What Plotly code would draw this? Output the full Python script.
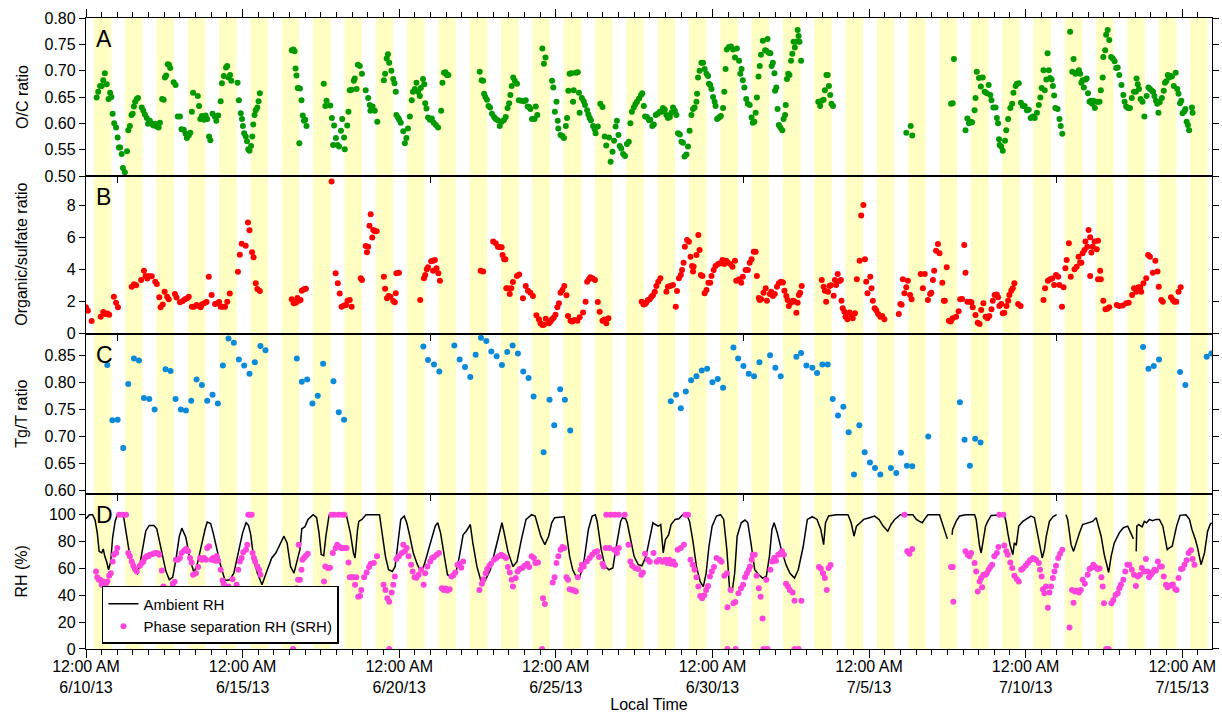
import plotly.graph_objects as go
from datetime import datetime, timedelta

# ---------------- data (time = days after 2013-06-10 00:00 local) ----------------
oc_day = [
 0.34,0.39,0.45,0.50,0.55,0.60,0.66,0.72,0.77,0.81,
 0.85,0.90,0.96,1.01,1.05,1.09,1.14,1.18,1.24,1.31,
 1.35,1.40,1.45,1.49,1.53,1.57,1.62,1.66,1.78,1.83,
 1.88,1.94,1.98,2.04,2.11,2.15,2.20,2.26,2.32,2.36,
 2.43,2.48,2.52,2.56,2.61,2.65,2.69,2.80,2.86,2.93,
 3.00,3.05,3.12,3.18,3.22,3.28,3.33,3.38,3.42,3.57,
 3.61,3.65,3.70,3.77,3.82,3.87,3.93,3.97,4.04,4.11,
 4.16,4.22,4.30,4.34,4.40,4.47,4.51,4.55,4.60,4.64,
 4.84,4.88,4.94,4.98,5.01,5.05,5.10,5.14,5.18,5.22,
 5.27,5.31,5.34,5.38,5.42,5.47,5.51,5.55,6.57,6.62,
 6.66,6.69,6.72,6.76,6.81,6.83,6.88,6.92,6.96,7.00,
 7.04,
 7.59,7.64,7.68,7.80,7.85,7.89,7.92,7.98,8.03,8.08,
 8.14,8.18,8.24,8.26,8.34,8.38,8.42,8.48,8.55,8.58,
 8.64,8.68,8.74,8.81,8.93,9.01,9.06,9.08,9.15,9.22,
 9.30,9.51,9.55,9.60,9.64,9.68,9.75,9.81,9.85,9.89,
 9.91,9.96,10.00,10.05,10.13,10.18,10.23,10.28,10.34,10.40,
 10.44,10.50,10.55,10.60,10.66,10.69,10.76,10.80,10.83,10.87,
 10.92,10.98,11.04,11.10,11.17,11.24,11.34,11.38,11.43,11.48,
 11.52,11.57,
 12.57,12.63,12.68,12.71,12.75,12.80,12.85,12.90,12.96,13.03,
 13.08,13.15,13.21,13.27,13.34,13.40,13.46,13.51,13.55,13.59,
 13.64,13.69,13.76,13.82,13.89,13.98,14.04,14.10,14.15,14.19,
 14.24,14.32,14.36,14.41,14.57,14.62,14.67,14.88,14.92,14.97,
 15.02,15.06,15.08,15.15,15.21,15.26,15.32,15.36,15.40,15.44,
 15.50,15.55,15.57,15.64,15.70,15.74,15.76,15.83,15.89,15.93,
 16.00,16.04,16.08,16.12,16.19,16.24,16.27,16.34,16.42,16.49,
 16.56,16.61,16.70,16.75,16.81,16.86,16.91,16.95,17.00,17.04,
 17.09,17.15,17.21,17.27,17.33,17.38,17.43,17.49,17.54,17.59,
 17.66,17.72,17.76,17.81,17.85,17.91,17.98,18.02,18.08,18.13,
 18.19,18.25,18.32,18.38,18.42,18.48,18.53,18.58,18.64,18.69,
 18.74,18.80,18.85,18.90,18.96,19.01,19.06,19.11,19.17,19.22,
 19.27,19.33,19.38,19.43,19.49,19.51,19.54,19.59,19.65,19.70,
 19.75,19.81,19.86,19.89,19.93,19.97,20.02,20.07,20.10,20.15,
 20.19,20.23,20.27,20.34,20.38,20.42,20.46,20.53,20.59,20.66,
 20.72,20.78,20.85,20.89,20.93,20.97,21.02,21.08,21.13,21.19,
 21.25,21.29,21.34,21.38,21.42,21.47,21.51,21.55,21.61,21.68,
 21.72,21.76,21.80,21.85,21.89,21.93,21.98,22.00,22.04,22.08,
 22.12,22.17,22.23,22.27,22.32,22.34,22.38,22.42,22.46,22.51,
 22.55,22.59,22.63,22.68,22.72,22.75,22.78,22.83,23.38,23.44,
 23.49,23.55,23.59,23.64,23.68,23.72,23.76,23.80,23.85,26.19,
 26.33,26.38,27.62,27.67,27.71,
 28.08,28.14,28.19,28.23,28.29,28.37,28.40,28.44,28.51,28.57,
 28.63,28.69,28.76,28.82,28.87,28.91,28.97,29.04,29.08,29.12,
 29.15,29.17,29.22,29.27,29.34,29.38,29.44,29.51,29.57,29.61,
 29.68,29.72,29.78,29.85,29.91,29.97,30.04,30.10,30.16,30.23,
 30.29,30.36,30.42,30.47,30.51,30.57,30.61,30.66,30.70,30.74,
 30.78,30.83,30.87,30.91,30.95,31.02,31.08,31.12,31.17,31.42,
 31.49,31.53,31.59,31.66,31.70,31.74,31.78,31.82,31.86,31.91,
 31.95,31.99,32.04,32.08,32.12,32.16,32.21,32.25,32.31,32.36,
 32.40,32.46,32.48,32.54,32.57,32.62,32.67,32.73,32.78,32.84,
 32.89,32.94,32.99,33.06,33.12,33.16,33.21,33.27,33.33,33.39,
 33.46,33.52,33.54,33.58,33.62,33.67,33.73,33.79,33.86,33.92,
 33.97,34.03,34.07,34.11,34.16,34.20,34.24,34.28,34.35,34.41,
 34.45,34.49,34.54,34.58,34.62,34.67,34.73,34.79,34.84,34.88,
 34.93,34.97,35.01,35.07,35.10,35.14,35.18,35.22,35.31,35.33,
]
oc_val = [
 .649,.660,.671,.671,.682,.695,.674,.646,.658,.650,
 .618,.600,.592,.573,.554,.554,.542,.515,.507,.547,
 .587,.595,.616,.618,.632,.641,.646,.648,.630,.624,
 .617,.610,.599,.605,.599,.596,.599,.594,.592,.601,
 .646,.645,.687,.691,.712,.711,.705,.678,.673,.613,
 .613,.589,.588,.580,.572,.577,.582,.622,.658,.652,
 .633,.608,.614,.607,.615,.608,.575,.568,.618,.613,
 .605,.615,.642,.676,.690,.706,.709,.687,.692,.681,
 .677,.644,.619,.608,.595,.581,.575,.566,.551,.548,
 .557,.575,.598,.616,.625,.630,.642,.657,.739,.740,
 .737,.704,.691,.667,.562,.666,.644,.615,.605,.607,
 .595,
 .675,.633,.643,.634,.610,.559,.596,.572,.559,.556,
 .586,.608,.573,.551,.596,.622,.663,.664,.681,.685,
 .665,.711,.709,.694,.663,.648,.635,.624,.632,.624,
 .603,.682,.694,.723,.731,.715,.700,.684,.676,.660,
 .616,.611,.607,.601,.585,.562,.572,.590,.613,.644,
 .660,.665,.677,.660,.652,.667,.684,.674,.638,.628,
 .611,.607,.609,.601,.597,.592,.624,.677,.696,.697,
 .692,.692,
 .698,.682,.681,.656,.650,.645,.633,.630,.618,.612,
 .608,.606,.595,.603,.606,.612,.629,.638,.654,.671,
 .687,.681,.675,.644,.643,.642,.644,.632,.631,.627,
 .608,.608,.632,.616,.742,.713,.725,.681,.668,.622,
 .641,.605,.590,.578,.576,.572,.595,.610,.662,.694,
 .695,.641,.663,.696,.697,.658,.620,.648,.642,.635,
 .625,.617,.610,.606,.595,.589,.581,.594,.637,.631,
 .575,.558,.573,.527,.546,.567,.594,.605,.578,.557,
 .552,.542,.538,.561,.565,.600,.622,.630,.636,.641,
 .647,.654,.657,.633,.613,.612,.606,.607,.595,.598,
 .616,.618,.622,.622,.629,.626,.616,.610,.612,.620,
 .630,.624,.616,.581,.579,.565,.563,.537,.541,.556,
 .586,.616,.627,.630,.641,.656,.687,.700,.715,.715,
 .703,.694,.690,.675,.673,.665,.650,.641,.633,.608,
 .610,.612,.614,.629,.660,.703,.740,.745,.746,.740,
 .725,.742,.719,.694,.703,.682,.668,.646,.637,.635,
 .611,.601,.603,.620,.649,.689,.709,.730,.757,.739,
 .738,.760,.734,.733,.709,.715,.695,.662,.668,.627,
 .597,.592,.587,.608,.616,.635,.684,.694,.692,.719,
 .732,.755,.744,.755,.777,.766,.755,.719,.641,.633,
 .643,.645,.663,.692,.692,.671,.654,.637,.633,.582,
 .595,.577,.637,.638,.722,
 .587,.609,.600,.603,.602,.625,.648,.698,.686,.670,
 .687,.660,.657,.673,.654,.644,.630,.630,.610,.600,
 .570,.559,.556,.548,.567,.587,.608,.629,.637,.658,
 .671,.675,.676,.639,.633,.633,.625,.626,.610,.613,
 .610,.620,.635,.649,.667,.701,.663,.683,.733,.701,
 .686,.683,.671,.653,.629,.627,.608,.595,.580,.774,
 .698,.722,.694,.697,.701,.694,.677,.682,.668,.683,
 .685,.657,.641,.643,.637,.643,.629,.641,.641,.641,
 .663,.687,.726,.739,.768,.777,.758,.726,.723,.718,
 .705,.706,.692,.673,.654,.641,.632,.629,.629,.648,
 .660,.660,.685,.674,.665,.646,.641,.613,.652,.668,
 .665,.662,.660,.652,.643,.637,.620,.640,.648,.662,
 .677,.680,.692,.687,.690,.689,.671,.696,.665,.656,
 .638,.643,.619,.623,.627,.603,.597,.587,.630,.620,
]

os_day = [
 0.00,0.06,0.18,0.47,0.55,0.62,0.68,0.74,0.89,0.96,
 1.02,1.46,1.53,1.60,1.76,1.85,1.90,1.96,2.01,2.10,
 2.21,2.26,2.34,2.38,2.45,2.51,2.59,2.64,2.84,2.89,
 3.00,3.09,3.16,3.23,3.28,3.38,3.45,3.53,3.60,3.66,
 3.70,3.77,3.85,3.92,4.01,4.12,4.19,4.25,4.30,4.36,
 4.44,4.51,4.59,4.85,4.91,4.97,5.10,5.17,5.22,5.30,
 5.35,5.42,5.47,5.55,6.57,6.63,6.70,6.75,6.80,6.85,
 6.89,6.96,7.02,7.84,7.97,8.04,8.10,8.16,8.24,8.30,
 8.35,8.42,8.48,8.77,8.81,8.93,8.97,9.01,9.05,9.09,
 9.14,9.17,9.22,9.28,9.51,9.55,9.61,9.66,9.72,9.81,
 9.86,9.89,9.91,9.99,10.67,10.79,10.83,10.88,10.92,11.02,
 11.08,11.14,11.08,11.19,11.25,11.30,12.60,12.68,13.00,13.08,
 13.15,13.21,13.27,13.30,13.35,13.39,13.42,13.47,13.53,13.58,
 13.63,13.76,13.83,13.95,14.04,14.11,14.19,14.27,14.38,14.46,
 14.51,14.57,14.62,14.68,14.78,14.83,14.88,14.93,14.99,15.05,
 15.10,15.15,15.21,15.27,15.34,15.39,15.47,15.53,15.60,15.69,
 15.76,15.87,15.95,16.00,16.06,16.10,16.17,16.25,16.34,16.40,
 16.49,16.55,16.61,16.68,17.74,17.80,17.85,17.89,17.94,18.00,
 18.05,18.10,18.16,18.21,18.27,18.34,18.53,18.58,18.66,18.74,
 18.83,18.87,18.93,18.99,19.03,19.08,19.12,19.19,19.25,19.30,
 19.35,19.38,19.40,19.49,19.55,19.59,19.63,19.68,19.75,19.81,
 19.87,19.93,19.97,20.04,20.10,20.18,20.25,20.32,20.38,20.44,
 20.49,20.57,20.64,20.72,20.76,20.85,20.92,20.97,21.06,21.13,
 21.19,21.25,21.32,21.38,21.42,21.48,21.51,21.56,21.63,21.70,
 21.74,21.83,21.88,21.93,21.99,22.06,22.12,22.19,22.25,22.30,
 22.36,22.40,22.44,22.50,22.57,22.62,22.68,22.72,22.76,22.80,
 22.85,23.49,23.55,23.59,23.63,23.69,23.74,23.78,23.87,23.91,
 23.95,24.00,24.06,24.10,24.12,24.16,24.21,24.25,24.31,24.38,
 24.44,24.48,24.55,24.61,24.70,24.75,24.82,24.87,24.91,24.95,
 25.04,25.08,25.12,25.18,25.23,25.29,25.36,25.42,25.49,25.95,
 26.00,26.04,26.08,26.13,26.19,26.24,26.31,26.36,26.65,26.72,
 26.78,26.88,26.95,26.99,27.04,27.08,27.14,27.20,27.25,27.34,
 27.39,27.42,27.48,27.55,27.61,27.67,27.78,27.86,27.91,27.97,
 28.04,28.08,28.14,28.23,28.27,28.31,28.40,28.47,28.53,28.58,
 28.65,28.72,28.78,28.84,28.91,28.95,29.01,29.08,29.12,29.16,
 29.22,29.27,29.32,29.39,29.44,29.48,29.54,29.59,29.64,29.76,
 29.84,30.57,30.62,30.71,30.78,30.85,30.91,30.97,31.04,31.08,
 31.16,31.21,31.27,31.31,31.38,31.44,31.56,31.63,31.69,31.74,
 31.78,31.82,31.88,31.91,31.97,32.01,32.06,32.06,32.10,32.14,
 32.20,32.27,32.31,32.31,32.40,32.38,32.48,32.55,32.61,32.67,
 32.91,32.99,33.10,33.21,33.29,33.40,33.46,33.53,33.60,33.66,
 33.69,33.76,33.85,33.91,33.97,34.06,34.14,34.21,34.25,34.33,
 34.38,34.64,34.70,34.75,34.81,34.88,34.95,
]
os_val = [
 1.64,1.43,0.78,1.05,1.35,1.22,1.25,1.18,2.31,1.93,
 1.64,2.93,3.08,3.02,3.35,3.94,3.61,3.44,3.61,3.58,
 3.25,3.10,2.27,1.64,1.81,2.62,2.31,2.14,2.48,2.25,
 1.96,2.04,2.14,2.21,2.31,1.68,1.68,1.79,1.72,1.64,
 1.81,1.89,1.97,3.56,2.41,1.85,1.89,1.97,1.68,1.68,
 1.68,1.99,2.50,3.87,4.94,5.63,5.50,6.95,6.47,5.09,
 4.78,3.15,2.79,2.66,2.14,1.89,1.92,2.23,2.05,2.10,
 2.68,2.77,2.81,9.52,3.77,3.15,2.50,1.68,1.75,1.79,
 2.06,2.10,1.68,3.46,3.35,5.49,5.09,5.44,6.76,7.47,
 6.01,6.49,6.41,6.41,3.56,2.81,2.21,2.35,2.31,2.04,
 1.96,2.52,3.77,3.81,2.10,3.46,3.67,4.02,4.15,4.53,
 4.56,4.61,3.94,4.09,3.77,3.31,3.94,3.88,5.76,5.65,
 5.44,5.42,5.40,4.92,4.65,4.65,2.83,2.83,2.48,2.83,
 3.23,3.60,3.69,2.21,2.98,2.68,2.56,2.35,1.14,0.89,
 0.64,0.53,0.55,0.93,0.64,0.75,0.89,0.98,1.18,1.64,
 1.89,2.56,2.73,2.98,2.40,1.10,0.80,0.75,0.85,0.80,
 1.02,1.31,1.99,3.25,3.40,3.52,3.46,3.35,1.97,1.37,
 0.80,0.88,0.64,0.95,1.99,1.81,1.85,1.95,2.10,2.15,
 2.31,2.40,2.62,2.98,3.25,3.46,2.62,2.93,2.98,3.04,
 1.68,2.66,3.46,3.67,3.98,4.44,5.44,5.86,5.75,4.81,
 4.23,3.88,4.20,4.92,6.18,5.24,3.67,3.60,2.52,2.73,
 3.18,3.18,3.60,3.98,4.23,4.36,4.40,4.61,4.36,4.56,
 4.45,4.36,4.19,4.56,3.31,3.40,3.18,3.56,3.98,3.98,
 4.44,4.65,5.13,5.13,3.60,2.23,2.10,2.15,2.56,2.83,
 2.06,2.48,2.62,2.35,2.48,2.93,3.15,3.25,3.20,2.68,
 2.35,2.10,1.72,1.93,2.06,2.00,1.30,1.93,2.41,2.56,
 2.98,3.35,2.93,2.68,1.99,2.62,2.98,3.02,2.37,3.35,
 3.04,3.73,3.29,3.35,2.06,1.58,1.37,1.05,0.89,1.31,
 1.05,0.95,1.27,3.40,4.56,7.39,8.06,4.65,3.25,2.52,
 3.56,2.83,2.06,1.58,1.45,1.22,1.05,1.10,0.89,1.22,
 1.85,1.80,3.40,2.52,2.90,3.31,2.41,2.14,3.73,2.83,
 3.73,2.10,2.48,2.55,3.35,3.94,5.19,5.61,5.03,3.18,
 2.06,2.05,4.15,0.80,0.75,0.95,1.05,1.39,2.14,2.16,
 5.55,3.81,1.99,1.99,1.95,1.64,1.16,0.68,0.60,1.47,
 1.89,1.05,0.95,1.10,1.52,2.06,2.41,2.45,2.27,1.72,
 1.85,1.27,1.30,1.72,2.06,2.41,2.68,2.83,3.15,1.85,
 1.72,2.10,2.83,3.31,3.40,3.45,3.04,3.67,3.55,3.04,
 1.68,2.90,4.09,4.61,5.65,3.56,4.02,4.19,4.81,4.45,
 4.44,5.03,5.24,5.76,5.44,6.49,6.03,3.60,5.07,5.44,
 5.76,5.28,5.82,3.40,3.40,3.94,2.06,1.52,1.55,1.64,
 1.79,1.72,1.75,1.89,1.92,2.41,2.83,2.62,2.90,2.90,
 2.62,3.15,3.46,4.92,4.81,3.81,4.56,3.88,2.93,2.10,
 1.99,2.27,2.10,1.99,1.99,2.62,2.90,
]

tg_day = [
 0.68,0.84,1.01,1.19,1.35,1.53,1.69,1.85,2.02,2.19,
 2.54,2.70,2.86,3.03,3.19,3.36,3.53,3.70,3.87,4.04,
 4.21,4.37,4.55,4.72,4.88,5.05,5.22,5.39,5.57,5.73,
 6.73,6.89,7.06,7.23,7.40,7.57,7.90,8.07,8.24,10.77,
 10.92,11.11,11.28,11.76,11.93,12.10,12.27,12.44,12.61,12.78,
 12.94,13.11,13.28,13.45,13.62,13.79,13.96,14.13,14.29,14.61,
 14.80,14.95,15.14,15.29,15.46,18.67,18.84,18.99,19.15,19.32,
 19.49,19.66,19.83,20.00,20.17,20.34,20.67,20.82,20.99,21.16,
 21.33,21.50,21.84,22.01,22.18,22.68,22.83,23.00,23.19,23.34,
 23.51,23.68,23.84,24.01,24.18,24.35,24.52,24.69,24.86,25.03,
 25.19,25.36,25.70,25.87,26.02,26.21,26.38,26.89,27.90,28.05,
 28.22,28.39,28.56,33.75,33.92,34.09,34.26,34.93,35.10,35.78,
 35.93,
]
tg_val = [
 .832,.730,.731,.679,.797,.844,.840,.771,.769,.750,
 .824,.821,.769,.750,.748,.766,.805,.795,.766,.777,
 .761,.831,.881,.873,.842,.831,.816,.837,.867,.859,
 .844,.801,.805,.761,.775,.834,.802,.745,.731,.866,
 .841,.833,.820,.868,.842,.828,.810,.851,.882,.876,
 .857,.848,.832,.856,.868,.853,.820,.808,.774,.671,
 .768,.721,.787,.768,.711,.765,.777,.752,.783,.804,
 .811,.822,.825,.800,.806,.790,.864,.844,.830,.816,
 .811,.837,.850,.827,.811,.847,.854,.831,.827,.817,
 .833,.833,.769,.739,.755,.708,.630,.721,.671,.652,
 .642,.630,.642,.633,.670,.646,.645,.700,.763,.694,
 .646,.696,.689,.865,.825,.830,.842,.819,.795,.847,
 .853,
]

srh_day = [
 0.32,0.36,0.41,0.45,0.50,0.55,0.61,0.64,0.68,0.74,
 0.79,0.85,0.89,0.96,1.00,1.06,1.17,1.28,1.35,1.40,
 1.46,1.51,1.56,1.62,1.72,1.78,1.83,1.88,1.94,1.99,
 2.04,2.13,2.20,2.28,2.34,2.42,2.47,2.53,2.59,2.65,
 2.70,2.77,2.83,2.87,2.93,3.00,3.05,3.13,3.19,3.26,
 3.32,3.37,3.42,3.51,3.58,3.64,3.70,3.77,3.83,3.87,
 3.93,4.00,4.06,4.12,4.17,4.22,4.30,4.36,4.40,4.47,
 4.51,4.55,4.62,4.68,4.81,4.86,4.91,4.97,5.02,5.11,
 5.15,5.18,5.23,5.29,5.32,5.36,5.40,5.47,5.53,5.57,
 6.61,6.67,6.72,6.77,6.79,6.83,6.88,6.91,6.96,7.02,
 7.08,7.60,7.64,7.72,7.79,7.84,7.94,8.07,8.19,8.25,
 7.88,7.97,8.02,8.10,8.17,8.25,8.32,8.38,8.42,8.47,
 8.54,8.59,8.63,8.69,8.75,8.79,8.88,8.96,9.04,9.09,
 9.19,9.29,9.50,9.56,9.62,9.68,9.68,9.76,9.81,9.86,
 9.91,9.99,10.08,10.13,10.18,10.24,10.30,10.38,10.43,10.49,
 10.55,10.62,10.70,10.78,10.83,10.90,10.99,11.05,11.11,11.20,
 11.27,11.36,11.42,11.48,11.54,11.61,11.67,11.73,11.79,11.86,
 11.92,11.98,12.04,12.56,12.64,12.69,12.76,12.81,12.88,12.93,
 13.03,13.10,13.18,13.26,13.34,13.41,13.47,13.53,13.59,13.63,
 13.72,13.78,13.84,13.93,14.00,14.09,14.15,14.23,14.30,14.35,
 14.43,14.59,14.65,14.56,14.90,14.96,15.02,15.08,15.15,15.21,
 15.27,15.34,15.39,15.44,15.52,15.59,15.64,15.70,15.79,15.83,
 15.89,15.99,16.08,16.16,16.24,16.32,16.38,16.49,16.53,16.61,
 16.75,16.88,17.01,17.20,16.59,16.71,16.86,16.95,17.01,17.32,
 17.38,17.44,17.53,17.63,17.73,17.78,17.85,17.94,18.00,18.12,
 18.22,18.31,18.40,18.50,18.56,18.62,18.68,18.75,18.81,18.89,
 18.99,19.09,19.14,19.22,19.30,19.37,19.43,19.49,19.55,19.61,
 19.67,19.74,19.80,19.86,19.92,19.98,20.05,20.13,20.23,20.29,
 20.38,20.46,20.48,20.48,20.58,20.67,20.73,20.74,20.83,20.91,
 20.98,21.04,21.10,21.16,21.20,21.25,21.29,21.35,21.41,21.48,
 21.54,21.60,21.63,21.76,21.72,21.85,21.91,21.97,22.03,22.10,
 22.16,22.22,22.28,22.35,22.41,22.47,22.56,22.62,22.62,22.75,
 22.84,23.40,23.46,23.53,23.59,23.65,23.71,23.77,26.13,26.22,
 26.29,26.38,27.62,27.67,27.69,28.08,28.15,28.21,28.26,28.37,
 28.42,28.47,28.53,28.58,28.61,28.65,28.72,28.76,28.82,28.87,
 28.93,29.00,29.08,29.13,29.16,29.29,29.32,29.38,29.43,29.51,
 29.57,29.64,29.72,29.78,29.86,29.91,30.00,30.07,30.14,30.23,
 30.28,30.33,30.42,30.46,30.51,30.55,30.60,30.65,30.71,30.76,
 30.81,30.87,30.92,30.97,31.04,31.10,31.17,31.40,31.48,31.53,
 31.57,31.63,31.70,31.76,31.82,31.89,31.98,32.04,32.10,32.16,
 32.23,32.29,32.36,32.42,32.46,32.50,32.57,32.65,32.74,32.80,
 32.87,32.94,32.99,33.04,33.12,33.18,33.25,33.31,33.39,33.46,
 33.52,33.58,33.65,33.71,33.78,33.84,33.89,33.94,34.00,34.05,
 34.11,34.16,34.22,34.29,34.35,34.41,34.48,34.53,34.59,34.64,
 34.70,34.78,34.82,34.88,34.96,35.01,35.07,35.14,35.20,35.28,
 35.33,35.39,
]
srh_val = [
 57.7,53.5,51.5,51.5,47.8,50.2,44,49,50.2,54.5,
 56.5,65.2,70.2,71.5,75.3,100,100,100,71.5,69,
 65.2,62,59.5,57.7,62,64,65.2,67.8,69,69,
 70.2,70.8,71.5,71.5,70.2,58.5,46.5,45.3,39.5,38.5,
 42.8,48.5,50,66.5,66.5,67.8,71.5,73.2,74.5,72.7,
 67.8,64.5,55.3,56.5,61,67.8,66.5,67.8,66.5,75.3,
 76.5,66.5,67.8,65.8,69,65.8,59,51,48.5,44,
 40.2,46.5,44,52,47.8,59,65.2,67.8,72,74,
 77.7,100,100,100,71.5,67.8,65.2,61.5,59,55.3,
 0,40.2,45.3,51.5,77.7,51.5,59,66.5,68,69.5,
 71,50.2,61.5,60.3,60.5,100,100,100,100,100,
 71.5,75.3,77.7,76,75,75.3,75.3,64.5,53.5,53.5,
 53.5,47.8,53.5,39,39.5,44,53.5,57,61,63.5,
 64,69,47.8,44,37.8,35.2,0,42,47.8,54,
 67,69,71.5,77.7,72.7,75.3,69,62.8,57.7,53.5,
 53,55.3,59,47.8,56.5,61.5,65.2,67.8,68.5,70.2,
 71.5,45.3,44,45,43.5,44.5,54,55,57,62.8,
 63.5,60.5,65.2,44,48.5,52,56.5,59.5,62,63.5,
 66.5,67.8,69,70.2,69,67.8,61,57,51.5,46.5,
 52.8,57.7,59.5,60.3,62,63.5,61,69,67.8,64,
 64.5,37.8,33.5,0,49.5,53.5,64,69,74,76,
 75.3,53.5,51.5,44.5,44,43.5,42.8,53.5,59,62.8,
 61.5,65.2,67.8,70.2,72,72.7,68.5,63.5,61.5,100,
 100,100,100,100,75.3,75.3,74,71.5,75.3,77.7,
 65.2,62,60.3,59.5,55.3,57,71,66.5,65,71.5,
 65,66.5,65,66.5,64,66.5,63.5,65.2,62.8,74,
 75.3,77.7,100,100,66.5,62.8,59,53.5,46.5,39.5,
 37.8,40,44,47,54,57.7,61,67.8,66.5,65,
 54.5,56.5,31,0,44,34,35,0,41.5,45.3,
 47.8,53.5,56.5,59,61.5,66.5,70.2,70.2,54.5,45.3,
 39,22.8,0,0,51.5,59,65.2,67.8,65.8,70.2,
 71,72.7,70.2,48.5,46.5,44,42,36,0,0,
 36,61,60,56.5,52.8,44,60.3,62.5,100,72.7,
 71,74.5,61,61,35.2,72.7,70.2,69,71.5,64,
 57.7,42.8,50.2,52.8,46,55.3,55.3,56.5,59,61,
 62.8,69,71.5,76,100,100,77,72.7,70.2,64.5,
 60.3,54.5,52,50.2,59,60,62,64,66,67.8,
 67,66.5,64,59,54,44.5,41.5,46.5,30.7,42,
 46.5,52.8,57.7,62,67.8,71,74,16,44,34.5,
 42.8,43.5,42,44,51.5,48.5,55.3,59.5,60.5,62.8,
 61,59.5,60,53.5,46.5,34,0,0,34,36.5,
 40.2,41.5,45.3,47.8,51.5,57.7,62.8,62.8,59,55.3,
 47,54,55.3,60.3,57.7,67,57.7,53.5,55.3,57,
 59,58.5,65.2,61.5,61.5,54,47.8,46,47,47.5,
 48,44.5,44,52.8,59.5,60,62.8,66,71.5,73.5,
 67,62.8,
]

rh_day = [
 0.00,0.11,0.21,0.29,0.36,0.42,0.50,0.55,0.60,0.66,
 0.72,0.79,0.85,0.93,1.00,1.19,1.30,1.43,1.53,1.64,
 1.72,1.83,1.91,2.02,2.17,2.26,2.42,2.55,2.66,2.77,
 2.87,2.98,3.06,3.19,3.32,3.45,3.55,3.69,3.80,3.87,
 3.98,4.06,4.19,4.30,4.44,4.59,4.72,4.87,5.00,5.11,
 5.19,5.26,5.36,5.47,5.62,5.77,5.93,6.06,6.19,6.32,
 6.42,6.53,6.64,6.74,6.83,6.89,6.99,7.09,7.25,7.36,
 7.44,7.51,7.59,7.66,7.76,7.82,8.22,8.32,8.44,8.54,
 8.59,8.67,8.71,8.81,8.94,9.37,9.46,9.56,9.66,9.78,
 9.87,9.96,10.05,10.16,10.24,10.33,10.45,10.58,10.70,10.80,
 10.93,11.05,11.15,11.23,11.32,11.45,11.54,11.67,11.79,11.92,
 12.04,12.14,12.19,12.27,12.35,12.48,12.60,12.73,12.91,13.10,
 13.22,13.28,13.34,13.47,13.63,13.76,13.90,14.05,14.23,14.34,
 14.40,14.52,14.65,14.77,14.87,14.96,15.27,15.34,15.44,15.54,
 15.67,15.77,15.89,16.04,16.16,16.26,16.32,16.45,16.57,16.70,
 16.82,16.95,17.07,17.13,17.23,17.28,17.38,17.50,17.63,17.75,
 17.88,18.00,18.10,18.18,18.27,18.35,18.43,18.50,18.60,18.68,
 18.81,18.93,19.05,19.18,19.27,19.37,19.49,19.61,19.71,19.80,
 19.89,19.99,20.13,20.26,20.36,20.46,20.55,20.63,20.71,20.79,
 20.92,21.04,21.13,21.23,21.35,21.48,21.60,21.72,21.82,21.90,
 21.97,22.07,22.20,22.35,22.47,22.62,22.74,22.90,23.03,23.19,
 23.34,23.46,23.55,23.61,23.71,23.96,24.33,24.43,24.52,24.60,
 24.70,24.83,25.01,25.18,25.32,25.45,25.60,25.70,25.82,26.00,
 26.40,26.51,26.61,26.70,26.77,26.88,27.25,27.34,27.41,27.50,
 None,27.65,27.67,27.78,27.89,28.10,28.37,28.42,28.47,28.53,
 28.58,28.63,28.72,28.79,28.90,29.32,29.38,29.43,29.50,29.59,
 29.64,29.70,29.78,29.91,30.07,30.17,30.28,30.35,30.44,30.53,
 30.60,30.66,30.76,30.87,30.99,None,31.29,31.34,31.40,31.45,
 31.53,31.61,31.72,31.82,31.98,32.14,32.25,32.33,32.41,32.51,
 32.59,32.65,32.73,32.83,32.99,33.12,33.26,33.37,33.44,None,
 33.53,33.55,33.61,33.72,33.79,33.86,33.95,34.05,34.16,34.27,
 34.38,34.45,34.52,34.59,34.68,34.75,34.82,34.93,35.12,35.23,
 35.31,35.42,35.49,35.60,35.71,35.81,35.89,35.94,
]
rh_val = [
 97,100,100,96,86.5,72.7,71.5,74.5,69,65,
 59,65,83,95,100,100,84,65,58,56,
 63,76.5,88,92,92,89.5,72,58,51.5,53.5,
 66.5,84,90,83,66.5,57,63,78,89,94.5,
 93.5,86.5,72.7,62,51,51.5,56.5,72.7,86.5,94,
 92,85,66.5,56.5,47.8,57.7,67.8,71.5,77.7,84,
 79,61.5,56.5,66.5,74,89.5,91,96.5,100,98,
 86.5,70.3,69.5,84,99.5,100,100,99,86.5,71.5,
 67.8,89,95,96.5,100,100,84,69,59,57.7,
 61.5,81.5,96.5,99,94,85,71.5,62.8,57.7,62.8,
 74,84,91.5,94,86.5,67.8,55.3,53.5,54.5,69,
 85,87.7,90,92.7,79,61.5,51.5,50.2,59,77.7,
 90,94,87.7,72.7,61.5,65,81.5,96.5,100,99,
 94,84,77.7,84,94,97.8,98.5,86.5,69,59,
 52.8,54,64,89,99,100,95,74,61.5,59,
 60.3,79,95,97.8,97,94,81.5,69,62.8,62,
 69,84,94,92.7,91.5,92.7,71.5,81.5,85,92.7,
 96.5,97,100,100,95,81.5,61.5,50.2,46.5,56.5,
 76.5,91.5,99,100,96.5,74,44,42.8,56.5,84,
 94,96,94,79,59,55.3,52.8,54,69,89,
 94,86.5,74,62.8,56.5,52.8,59,76.5,96.5,98.5,
 96.5,89,77.7,94,99,100,100,94,84,91.5,
 94,96.5,97.8,99,96.5,91.5,87.7,92.7,96.5,100,
 100,96.5,95,94,96.5,100,100,94,89,82,
 None,85,89,95,99,100,100,96.5,86.5,76.5,
 71.5,77.7,91.5,95,99.5,100,94,86.5,77.7,70.3,
 79,77.2,91.5,95,97.8,99,97.8,89,79,67.8,
 74,84,95,98.5,100,None,100,96.5,86.5,77.7,
 72.7,79,86.5,92.7,94,95,97.8,91.5,84,70.3,
 61.5,57,69,79,86.5,90.3,91.5,85,82,None,
 72.7,91.5,92.7,91,95,94,96.5,95.5,96.5,96.5,
 91.5,81.5,74,75.3,76.5,84,91.5,99.5,100,96.5,
 89,81.5,75.3,62.8,71.5,87.7,92.7,94,
]

x_label_days = [0, 5, 10, 15, 20, 25, 30, 35]
x_label_text = ["12:00 AM<br>6/10/13", "12:00 AM<br>6/15/13", "12:00 AM<br>6/20/13",
                "12:00 AM<br>6/25/13", "12:00 AM<br>6/30/13", "12:00 AM<br>7/5/13",
                "12:00 AM<br>7/10/13", "12:00 AM<br>7/15/13"]
daylight_start, daylight_end = 0.25, 0.81   # fraction of day shaded (sunrise..sunset)
n_days = 36
x_end_days = 35.95

# ---------------- figure ----------------
T0 = datetime(2013, 6, 10)
def to_time(days):
    return [None if d is None else T0 + timedelta(days=d) for d in days]

FONT = "Liberation Sans, Arial, Helvetica, sans-serif"
GREEN, RED, BLUE, MAGENTA, YELLOW = "#009A00", "#FF0000", "#0A8AD8", "#FF44DD", "#FFFFC4"
MS = 6

fig = go.Figure()
fig.add_trace(go.Scatter(x=to_time(oc_day), y=oc_val, mode="markers",
                         marker=dict(color=GREEN, size=MS), xaxis="x", yaxis="y", showlegend=False))
fig.add_trace(go.Scatter(x=to_time(os_day), y=os_val, mode="markers",
                         marker=dict(color=RED, size=MS), xaxis="x2", yaxis="y2", showlegend=False))
fig.add_trace(go.Scatter(x=to_time(tg_day), y=tg_val, mode="markers",
                         marker=dict(color=BLUE, size=MS), xaxis="x3", yaxis="y3", showlegend=False))
fig.add_trace(go.Scatter(x=to_time(rh_day), y=rh_val, mode="lines", name="Ambient RH",
                         line=dict(color="black", width=1.5), connectgaps=False,
                         xaxis="x4", yaxis="y4"))
fig.add_trace(go.Scatter(x=to_time(srh_day), y=srh_val, mode="markers", name="Phase separation RH (SRH)",
                         marker=dict(color=MAGENTA, size=MS), xaxis="x4", yaxis="y4"))
# carrier for top tick axis
fig.add_trace(go.Scatter(x=[T0], y=[None], mode="markers", xaxis="x5", yaxis="y",
                         showlegend=False, hoverinfo="skip"))

xr = [T0, T0 + timedelta(days=x_end_days)]
label_vals = [T0 + timedelta(days=d) for d in x_label_days]
inner_vals = [T0 + timedelta(days=d) for d in (1, 11, 21, 31)]
minor12 = dict(tickmode="linear", tick0=T0, dtick=12 * 3600 * 1000, ticks="outside",
               ticklen=5, tickwidth=1.2, tickcolor="black", showgrid=False)

base_x = dict(type="date", range=xr, showline=True, linecolor="black", linewidth=1.3,
              mirror=True, showgrid=False, zeroline=False, automargin=False)
inner_x = dict(base_x, tickmode="array", tickvals=inner_vals, ticks="outside", ticklen=6,
               tickwidth=1.2, tickcolor="black", showticklabels=False)

dom = {"A": [0.7496, 1.0], "B": [0.5, 0.7496], "C": [0.2456, 0.5], "D": [0.0, 0.2456]}
base_y = dict(showline=True, linecolor="black", linewidth=1.3, mirror="ticks", ticks="outside",
              ticklen=6, tickwidth=1.2, tickcolor="black", showgrid=False, zeroline=False,
              automargin=False, tickfont=dict(size=16, color="black"))

fig.update_layout(
    width=1222, height=714,
    margin=dict(l=86, r=10, t=18, b=65),
    paper_bgcolor="white", plot_bgcolor="rgba(0,0,0,0)",
    font=dict(family=FONT, size=16, color="black"),
    xaxis=dict(inner_x, anchor="y"),
    xaxis2=dict(inner_x, anchor="y2", matches="x"),
    xaxis3=dict(inner_x, anchor="y3", matches="x"),
    xaxis4=dict(base_x, anchor="y4", matches="x", tickmode="array", tickvals=label_vals,
                ticktext=x_label_text, ticks="outside", ticklen=8, tickwidth=1.2, tickcolor="black",
                ticklabelstandoff=-5,
                minor=minor12, tickfont=dict(size=16, color="black"),
                title=dict(text="Local Time", font=dict(size=16), standoff=2)),
    xaxis5=dict(type="date", range=xr, overlaying="x", anchor="y", side="top", showline=False,
                showgrid=False, zeroline=False, tickmode="array", tickvals=label_vals,
                ticks="outside", ticklen=8, tickwidth=1.2, tickcolor="black", automargin=False,
                showticklabels=False, minor=minor12),
    yaxis=dict(base_y, domain=dom["A"], anchor="x", range=[0.5, 0.8], tick0=0.5, dtick=0.05,
               tickformat=".2f"),
    yaxis2=dict(base_y, domain=dom["B"], anchor="x2", range=[0, 9.87], tick0=0, dtick=2),
    yaxis3=dict(base_y, domain=dom["C"], anchor="x3", range=[0.594, 0.89], tick0=0.6, dtick=0.05,
                tickformat=".2f"),
    yaxis4=dict(base_y, domain=dom["D"], anchor="x4", range=[0, 115.4], tick0=0, dtick=20),
    legend=dict(x=0.0142, y=0.008, xanchor="left", yanchor="bottom", bgcolor="white",
                bordercolor="black", borderwidth=1.5, font=dict(size=15, color="black"),
                itemwidth=30, tracegroupgap=0),
    showlegend=True,
)

# daytime shading
shapes = []
for k in range(n_days):
    shapes.append(dict(type="rect", xref="x", yref="paper",
                       x0=T0 + timedelta(days=k + daylight_start),
                       x1=T0 + timedelta(days=k + daylight_end),
                       y0=0, y1=1, fillcolor=YELLOW, line=dict(width=0), layer="below"))
fig.update_layout(shapes=shapes)

# y titles and panel letters
titles = [("O/C ratio", "A"), ("Organic/sulfate ratio", "B"), ("Tg/T ratio", "C"), ("RH (%)", "D")]
ann = []
for text, key in titles:
    lo, hi = dom[key]
    ann.append(dict(text=text, xref="paper", yref="paper", x=0, xshift=-64, y=(lo + hi) / 2,
                    xanchor="center", yanchor="middle", textangle=-90, showarrow=False,
                    font=dict(size=16, color="black")))
    ann.append(dict(text=key, xref="paper", yref="paper", x=0, xshift=8, y=hi, yshift=-21,
                    xanchor="left", yanchor="middle", showarrow=False,
                    font=dict(size=23, color="black")))
fig.update_layout(annotations=ann)

fig.write_html("out.html")
